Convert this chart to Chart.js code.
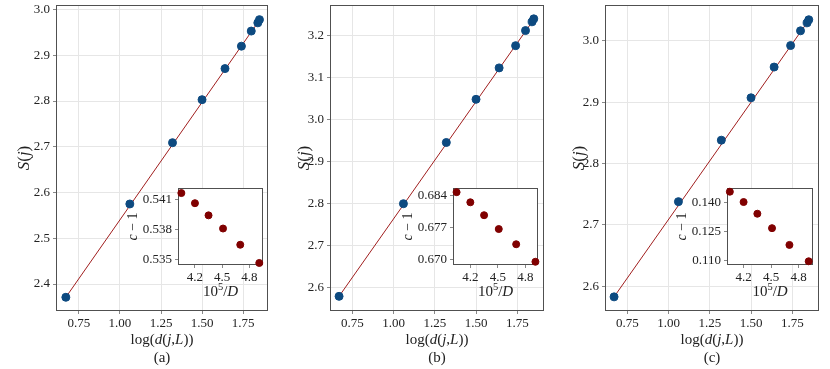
<!DOCTYPE html>
<html>
<head>
<meta charset="utf-8">
<script src="https://cdn.jsdelivr.net/npm/chart.js@4.4.1/dist/chart.umd.min.js"></script>
<style>
  body { margin: 0; background: #fff; }
  #wrap { position: relative; width: 830px; height: 369px; }
  #wrap canvas { position: absolute; }
</style>
</head>
<body>
<div id="wrap"></div>
<script>
// main panels: log(d(j,L)) vs S(j)
const logD = [0.67, 1.06, 1.32, 1.50, 1.64, 1.74, 1.80, 1.84, 1.85];
const entropyA = [2.371, 2.575, 2.709, 2.803, 2.871, 2.920, 2.953, 2.971, 2.978];
const entropyB = [2.578, 2.799, 2.945, 3.048, 3.123, 3.176, 3.212, 3.233, 3.240];
const entropyC = [2.583, 2.738, 2.838, 2.907, 2.957, 2.992, 3.016, 3.029, 3.034];
const fitXs = [0.67, 1.86];
const fitA = [2.371, 2.982];
const fitB = [2.578, 3.244];
const fitC = [2.583, 3.037];

// insets: 10^5/D vs c-1
const invD = [4.05, 4.20, 4.35, 4.51, 4.70, 4.91];
const cMinus1A = [0.5416, 0.5406, 0.5394, 0.5381, 0.5365, 0.5347];
const cMinus1B = [0.6847, 0.6825, 0.6797, 0.6767, 0.6734, 0.6696];
const cMinus1C = [0.1455, 0.1402, 0.1342, 0.1268, 0.1182, 0.1098];

// tick labels
const mainXTicks = [0.75, 1.00, 1.25, 1.50, 1.75];
const yTicksA = [2.4, 2.5, 2.6, 2.7, 2.8, 2.9, 3.0];
const yTicksB = [2.6, 2.7, 2.8, 2.9, 3.0, 3.1, 3.2];
const yTicksC = [2.6, 2.7, 2.8, 2.9, 3.0];
const insetXTicks = [4.2, 4.5, 4.8];
const insetYTicksA = [0.535, 0.538, 0.541];
const insetYTicksB = [0.670, 0.677, 0.684];
const insetYTicksC = [0.110, 0.125, 0.140];

const SERIF = "'Liberation Serif', 'Times New Roman', serif";
const pointBlue = '#0d4a80';
const lineRed = '#a01e1e';
const insetRed = '#800000';
const frameColor = '#505050';
const gridColor = '#e6e6e6';
const textColor = '#222222';

const wrap = document.getElementById('wrap');

function pts(xs, ys) {
    return xs.map((x, i) => ({ x: x, y: ys[i] }));
}

// draw a line of mixed roman / italic / superscript text centred at (x, y)
function richText(ctx, segs, x, y, size, rotate) {
    ctx.save();
    ctx.translate(x, y);
    if (rotate) ctx.rotate(-Math.PI / 2);
    ctx.fillStyle = textColor;
    ctx.textBaseline = 'middle';
    ctx.textAlign = 'left';
    const fontFor = s => (s.it ? 'italic ' : '') + (s.sup ? size * 0.7 : size) + 'px ' + SERIF;
    let total = 0;
    segs.forEach(s => { ctx.font = fontFor(s); total += ctx.measureText(s.t).width; });
    let cx = -total / 2;
    segs.forEach(s => {
        ctx.font = fontFor(s);
        ctx.fillText(s.t, cx, s.sup ? -size * 0.35 : 0);
        cx += ctx.measureText(s.t).width;
    });
    ctx.restore();
}

const decorate = {
    id: 'decorate',
    beforeDraw(chart) {
        const o = chart.options.plugins.decorate;
        if (o.fillArea) {
            const a = chart.chartArea;
            chart.ctx.save();
            chart.ctx.fillStyle = '#ffffff';
            chart.ctx.fillRect(a.left, a.top, a.right - a.left, a.bottom - a.top);
            chart.ctx.restore();
        }
    },
    beforeDatasetsDraw(chart) {
        const a = chart.chartArea;
        const ctx = chart.ctx;
        ctx.save();
        ctx.strokeStyle = frameColor;
        ctx.lineWidth = 1;
        ctx.strokeRect(a.left + 0.5, a.top + 0.5, a.right - a.left - 1, a.bottom - a.top - 1);
        ctx.restore();
    },
    afterDraw(chart) {
        const o = chart.options.plugins.decorate;
        const a = chart.chartArea;
        const ctx = chart.ctx;
        const cx = (a.left + a.right) / 2;
        const cy = (a.top + a.bottom) / 2;
        richText(ctx, o.xTitle, cx, o.xTitleY, o.xSize, false);
        richText(ctx, o.yTitle, o.yTitleX, cy, o.ySize, true);
        if (o.caption) richText(ctx, [{ t: o.caption }], cx, o.captionY, 15, false);
    }
};

function makeChart(box, area, cfg) {
    const c = document.createElement('canvas');
    c.width = box.w; c.height = box.h;
    c.style.left = box.x + 'px';
    c.style.top = box.y + 'px';
    c.style.width = box.w + 'px';
    c.style.height = box.h + 'px';
    wrap.appendChild(c);
    const leftW = area.l - box.x;
    const bottomH = box.y + box.h - area.b;
    const fmt = cfg.digits;
    return new Chart(c.getContext('2d'), {
        type: 'scatter',
        data: { datasets: cfg.datasets },
        options: {
            responsive: false,
            animation: false,
            layout: { padding: { top: area.t - box.y, right: box.x + box.w - area.r, left: 0, bottom: 0 } },
            plugins: {
                legend: { display: false },
                tooltip: { enabled: false },
                decorate: cfg.deco
            },
            scales: {
                x: {
                    type: 'linear',
                    min: cfg.xRange[0], max: cfg.xRange[1],
                    afterBuildTicks: s => { s.ticks = cfg.xTicks.map(v => ({ value: v })); },
                    afterFit: s => { s.height = bottomH; s.paddingLeft = 0; s.paddingRight = 0; },
                    grid: { display: true, color: gridColor, tickColor: '#888', tickLength: 3, drawOnChartArea: cfg.grid },
                    border: { display: false },
                    ticks: {
                        color: textColor, padding: 2, maxRotation: 0,
                        font: { family: SERIF, size: 13 },
                        callback: v => v.toFixed(fmt[0])
                    }
                },
                y: {
                    type: 'linear',
                    min: cfg.yRange[0], max: cfg.yRange[1],
                    afterBuildTicks: s => { s.ticks = cfg.yTicks.map(v => ({ value: v })); },
                    afterFit: s => { s.width = leftW; s.paddingTop = 0; s.paddingBottom = 0; },
                    grid: { display: true, color: gridColor, tickColor: '#888', tickLength: 3, drawOnChartArea: cfg.grid },
                    border: { display: false },
                    ticks: {
                        color: textColor, padding: 3,
                        font: { family: SERIF, size: 13 },
                        callback: v => v.toFixed(fmt[1])
                    }
                }
            }
        },
        plugins: [decorate]
    });
}

const panels = [
    { x: 0, w: 280, area: { l: 56, r: 268 }, xr: [0.61, 1.902], yr: [2.341, 3.010], ys: entropyA, fit: fitA, yt: yTicksA, cap: '(a)',
      inset: { l: 178, r: 263 }, iyr: [0.5345, 0.5421], iys: cMinus1A, iyt: insetYTicksA, ixr: [4.013, 4.951] },
    { x: 280, w: 275, area: { l: 330, r: 544 }, xr: [0.615, 1.912], yr: [2.543, 3.273], ys: entropyB, fit: fitB, yt: yTicksB, cap: '(b)',
      inset: { l: 453, r: 538 }, iyr: [0.6689, 0.6856], iys: cMinus1B, iyt: insetYTicksB, ixr: [4.011, 4.938] },
    { x: 555, w: 275, area: { l: 605, r: 819 }, xr: [0.615, 1.912], yr: [2.560, 3.058], ys: entropyC, fit: fitC, yt: yTicksC, cap: '(c)',
      inset: { l: 727, r: 813 }, iyr: [0.1079, 0.1474], iys: cMinus1C, iyt: insetYTicksC, ixr: [4.019, 4.957] }
];

const logTitle = [{ t: 'log(' }, { t: 'd', it: true }, { t: '(' }, { t: 'j', it: true }, { t: ',' }, { t: 'L', it: true }, { t: '))' }];
const sTitle = [{ t: 'S', it: true }, { t: '(' }, { t: 'j', it: true }, { t: ')' }];
const cTitle = [{ t: 'c', it: true }, { t: ' \u2212 1' }];
const dTitle = [{ t: '10' }, { t: '5', sup: true }, { t: '/' }, { t: 'D', it: true }];

panels.forEach(p => {
    makeChart({ x: p.x, y: 0, w: p.w, h: 369 }, { l: p.area.l, r: p.area.r, t: 5, b: 311 }, {
        xRange: p.xr, yRange: p.yr, xTicks: mainXTicks, yTicks: p.yt, digits: [2, 1], grid: true,
        deco: { xTitle: logTitle, xTitleY: 340, xSize: 15, yTitle: sTitle, yTitleX: 25, ySize: 17, caption: p.cap, captionY: 358 },
        datasets: [
            { type: 'line', data: pts(fitXs, p.fit), borderColor: lineRed, borderWidth: 1, pointRadius: 0, fill: false, order: 2, clip: false },
            { data: pts(logD, p.ys), backgroundColor: pointBlue, borderColor: pointBlue, pointRadius: 4, order: 1, clip: false }
        ]
    });
    const ib = { x: p.inset.l - 58, y: 180, w: p.inset.r - p.inset.l + 66, h: 120 };
    makeChart(ib, { l: p.inset.l, r: p.inset.r, t: 188, b: 265 }, {
        xRange: p.ixr, yRange: p.iyr, xTicks: insetXTicks, yTicks: p.iyt, digits: [1, 3], grid: false,
        deco: { fillArea: true, xTitle: dTitle, xTitleY: 112, xSize: 15, yTitle: cTitle, yTitleX: 13, ySize: 14 },
        datasets: [
            { data: pts(invD, p.iys), backgroundColor: insetRed, borderColor: insetRed, pointRadius: 3.5, clip: false }
        ]
    });
});
</script>
</body>
</html>
